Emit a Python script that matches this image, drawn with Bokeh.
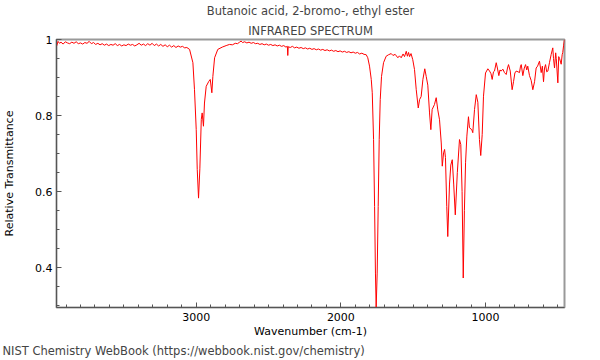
from bokeh.plotting import figure
from bokeh.models import Range1d, FixedTicker, Title, CustomJSTickFormatter
from bokeh.embed import file_html
from bokeh.resources import INLINE

wavenumber = [
    3966, 3955, 3945, 3935, 3920, 3905, 3890, 3875, 3860, 3845, 3830, 3815, 3800, 3785, 3770,
    3755, 3740, 3725, 3710, 3695, 3680, 3665, 3650, 3635, 3620, 3605, 3590, 3575, 3560, 3545,
    3530, 3515, 3500, 3485, 3470, 3455, 3440, 3425, 3410, 3395, 3380, 3365, 3350, 3335, 3320,
    3305, 3290, 3275, 3260, 3245, 3230, 3215, 3200, 3185, 3170, 3155, 3140, 3125, 3110, 3095,
    3080, 3065, 3046, 3023, 3012, 3000, 2993, 2984, 2975, 2965, 2959, 2950, 2943, 2931, 2913,
    2903, 2892, 2885, 2873, 2851, 2820, 2793, 2770, 2750, 2730, 2715, 2700, 2690, 2680, 2665,
    2650, 2635, 2620, 2605, 2590, 2575, 2560, 2545, 2530, 2515, 2500, 2485, 2470, 2455, 2440,
    2425, 2410, 2395, 2380, 2370, 2367, 2364, 2350, 2335, 2320, 2305, 2290, 2275, 2260, 2245,
    2230, 2215, 2200, 2185, 2170, 2155, 2140, 2125, 2110, 2095, 2080, 2065, 2050, 2035, 2020,
    2005, 1990, 1975, 1960, 1945, 1930, 1915, 1900, 1885, 1871, 1855, 1840, 1825, 1814, 1802,
    1790, 1783, 1774, 1767, 1761, 1756, 1749, 1742, 1735, 1728, 1719, 1705, 1687, 1670, 1652,
    1640, 1625, 1606, 1595, 1583, 1570, 1560, 1548, 1540, 1532, 1525, 1515, 1503, 1491, 1479,
    1465, 1456, 1445, 1433, 1420, 1410, 1399, 1387, 1378, 1369, 1353, 1341, 1330, 1318, 1306,
    1299, 1290, 1283, 1277, 1268, 1261, 1249, 1240, 1230, 1220, 1209, 1195, 1180, 1171, 1162,
    1154, 1146, 1138, 1129, 1118, 1111, 1095, 1088, 1076, 1064, 1053, 1042, 1033, 1023, 1014,
    1000, 984, 972, 962, 954, 945, 938, 926, 918, 908, 900, 892, 880, 869, 857,
    848, 841, 829, 816, 806, 797, 788, 775, 765, 758, 753, 742, 732, 723, 715,
    708, 696, 684, 673, 661, 650, 640, 627, 615, 607, 599, 592, 585, 577, 569,
    558, 546, 535, 530, 523, 515, 511, 500, 494, 488, 477, 470, 466, 460, 454,
]
transmittance = [
    0.982, 0.995, 0.990, 0.993, 0.988, 0.994, 0.991, 0.989, 0.993, 0.990, 0.994, 0.989, 0.991, 0.988, 0.992,
    0.990, 0.995, 0.989, 0.992, 0.987, 0.990, 0.986, 0.989, 0.985, 0.988, 0.984, 0.987, 0.985, 0.989, 0.984,
    0.987, 0.983, 0.986, 0.984, 0.988, 0.985, 0.987, 0.983, 0.986, 0.990, 0.985, 0.988, 0.984, 0.989, 0.985,
    0.990, 0.984, 0.988, 0.983, 0.987, 0.982, 0.986, 0.981, 0.985, 0.980, 0.984, 0.979, 0.983, 0.980, 0.982,
    0.978, 0.979, 0.974, 0.939, 0.868, 0.763, 0.658, 0.583, 0.660, 0.790, 0.807, 0.772, 0.833, 0.877, 0.890,
    0.895, 0.860, 0.903, 0.952, 0.974, 0.980, 0.984, 0.987, 0.986, 0.990, 0.989, 0.993, 0.996, 0.992, 0.994,
    0.991, 0.993, 0.990, 0.992, 0.989, 0.990, 0.987, 0.989, 0.986, 0.988, 0.985, 0.987, 0.984, 0.986, 0.983,
    0.985, 0.982, 0.984, 0.980, 0.982, 0.958, 0.981, 0.979, 0.982, 0.978, 0.980, 0.977, 0.979, 0.976, 0.978,
    0.975, 0.977, 0.974, 0.976, 0.973, 0.975, 0.972, 0.974, 0.971, 0.973, 0.970, 0.972, 0.969, 0.971, 0.968,
    0.970, 0.967, 0.969, 0.966, 0.968, 0.965, 0.967, 0.964, 0.966, 0.962, 0.964, 0.961, 0.960, 0.952, 0.930,
    0.895, 0.860, 0.737, 0.561, 0.386, 0.295, 0.386, 0.561, 0.737, 0.842, 0.903, 0.939, 0.956, 0.960, 0.963,
    0.958, 0.961, 0.952, 0.957, 0.952, 0.962, 0.955, 0.969, 0.956, 0.966, 0.955, 0.963, 0.947, 0.921, 0.868,
    0.820, 0.842, 0.850, 0.895, 0.923, 0.903, 0.880, 0.807, 0.763, 0.816, 0.829, 0.847, 0.815, 0.789, 0.728,
    0.667, 0.702, 0.711, 0.690, 0.561, 0.482, 0.620, 0.670, 0.684, 0.620, 0.539, 0.650, 0.737, 0.724, 0.600,
    0.373, 0.550, 0.676, 0.746, 0.797, 0.768, 0.763, 0.755, 0.816, 0.855, 0.835, 0.737, 0.695, 0.750, 0.851,
    0.912, 0.923, 0.917, 0.910, 0.895, 0.915, 0.917, 0.939, 0.925, 0.905, 0.920, 0.917, 0.922, 0.913, 0.908,
    0.925, 0.934, 0.917, 0.868, 0.890, 0.912, 0.917, 0.915, 0.913, 0.930, 0.934, 0.905, 0.925, 0.934, 0.920,
    0.930, 0.905, 0.892, 0.868, 0.889, 0.925, 0.930, 0.943, 0.913, 0.930, 0.889, 0.925, 0.934, 0.915, 0.917,
    0.939, 0.961, 0.978, 0.950, 0.925, 0.965, 0.950, 0.886, 0.955, 0.950, 0.935, 0.960, 0.966, 0.985, 1.000,
]

x_major_ticks = [1000, 2000, 3000]
x_minor_ticks = list(range(500, 4000, 100))
y_major_ticks = [0.4, 0.6, 0.8, 1.0]
y_minor_ticks = [0.30, 0.35, 0.40, 0.45, 0.50, 0.55, 0.60, 0.65, 0.70, 0.75, 0.80, 0.85, 0.90, 0.95, 1.00]

title_text = "Butanoic acid, 2-bromo-, ethyl ester"
subtitle_text = "INFRARED SPECTRUM"
footnote_text = "NIST Chemistry WebBook (https://webbook.nist.gov/chemistry)"

FONT = "DejaVu Sans"

p = figure(
    width=584, height=359,
    x_range=Range1d(3966, 454), y_range=Range1d(0.2955, 1.0),
    output_backend="svg", toolbar_location=None,
    min_border_left=54, min_border_right=20, min_border_top=36, min_border_bottom=52,
)

p.line(wavenumber, transmittance, line_color="#ff0000", line_width=1)

p.xgrid.visible = False
p.ygrid.visible = False
p.outline_line_color = "#999999"
p.outline_line_width = 2

for ax in (p.xaxis[0], p.yaxis[0]):
    ax.axis_line_color = "#555555"
    ax.major_tick_line_color = "#555555"
    ax.minor_tick_line_color = "#555555"
    ax.major_tick_in = 5
    ax.major_tick_out = 0
    ax.minor_tick_in = 3
    ax.minor_tick_out = 0
    ax.major_label_text_font = FONT
    ax.major_label_text_font_size = "11px"
    ax.major_label_text_color = "#000000"
    ax.axis_label_text_font = FONT
    ax.axis_label_text_font_size = "11px"
    ax.axis_label_text_font_style = "normal"
    ax.axis_label_text_color = "#000000"

p.xaxis.ticker = FixedTicker(ticks=x_major_ticks, minor_ticks=x_minor_ticks)
p.yaxis.ticker = FixedTicker(ticks=y_major_ticks, minor_ticks=y_minor_ticks)
p.yaxis.formatter = CustomJSTickFormatter(code="return tick >= 0.999 ? '1' : tick.toFixed(1);")
p.xaxis.axis_label = "Wavenumber (cm-1)"
p.yaxis.axis_label = "Relative Transmittance"
p.xaxis.major_label_standoff = 5
p.xaxis.axis_label_standoff = 1
p.yaxis.major_label_standoff = 4
p.yaxis.axis_label_standoff = 16

sub = Title(text=subtitle_text, align="center", text_font=FONT,
            text_font_size="11.5px", text_font_style="normal", standoff=4)
main = Title(text=title_text, align="center", text_font=FONT,
             text_font_size="11.5px", text_font_style="normal", standoff=3)
p.add_layout(sub, "above")
p.add_layout(main, "above")

foot = Title(text=footnote_text, align="left", offset=-54, text_font=FONT,
             text_font_size="11.5px", text_font_style="normal", standoff=2)
p.add_layout(foot, "below")

open("out.html", "w").write(file_html(p, INLINE))
